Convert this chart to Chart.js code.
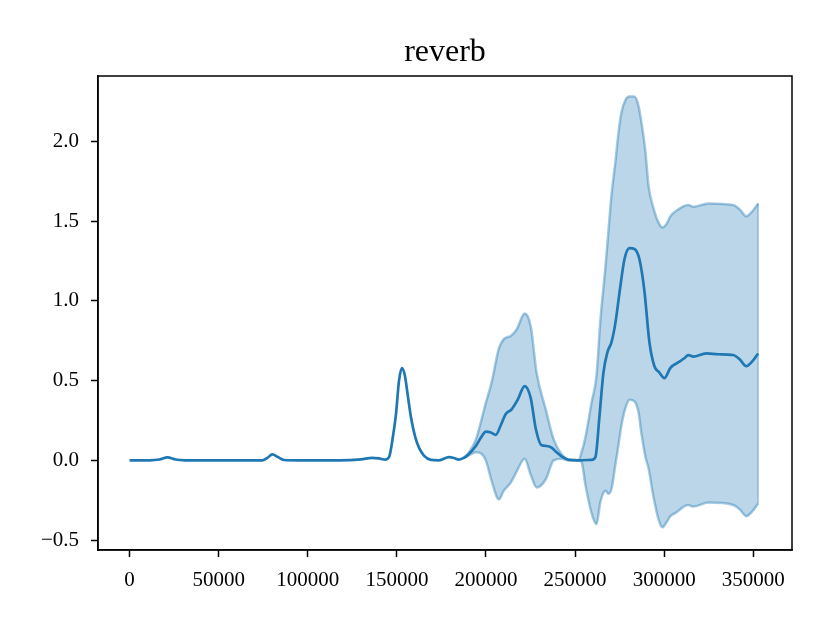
<!DOCTYPE html>
<html>
<head>
<meta charset="utf-8">
<script src="https://cdn.jsdelivr.net/npm/chart.js@4.4.0/dist/chart.umd.min.js"></script>
<style>
  body { margin: 0; background: #fff; }
</style>
</head>
<body>
<canvas id="reverbChart" width="830" height="623"></canvas>
<script>
// data
var title = 'reverb';
var xTicks = [0, 50000, 100000, 150000, 200000, 250000, 300000, 350000];
var yTicks = [-0.5, 0.0, 0.5, 1.0, 1.5, 2.0];

var meanX = [0, 11200, 16800, 21300, 25800, 30800, 56000, 74500, 77300, 80100, 83400, 86800, 95200,
    117600, 129900, 136100, 140000, 143400, 145600, 147800, 149500, 151200, 152900, 154500, 156200,
    157900, 160200, 162400, 165200, 169100, 173600, 179200, 182000, 184800, 187600, 190400, 194300,
    197600, 199900, 202700, 205500, 208300, 211100, 214400, 217800, 221700, 225100, 227900, 231200,
    234000, 236800, 239600, 242400, 246400, 252000, 259200, 261400, 263700, 265900, 268200, 270400,
    272600, 274900, 277700, 280500, 283300, 286100, 288900, 291700, 294500, 297300, 300100, 303500,
    308000, 311300, 313500, 316300, 323600, 330300, 338700, 342600, 346000, 349400, 352700];
var meanY = [0, 0, 0.005, 0.018, 0.005, 0, 0, 0, 0.015, 0.037, 0.02, 0.002, 0,
    0, 0.006, 0.016, 0.012, 0.005, 0.02, 0.15, 0.29, 0.50, 0.578, 0.53, 0.40,
    0.27, 0.15, 0.08, 0.03, 0.003, 0, 0.02, 0.015, 0.005, 0.015, 0.04, 0.09,
    0.15, 0.18, 0.175, 0.16, 0.22, 0.29, 0.32, 0.38, 0.465, 0.39, 0.2, 0.094,
    0.09, 0.08, 0.05, 0.025, 0.003, 0, 0.003, 0.02, 0.28, 0.55, 0.68, 0.74,
    0.86, 1.05, 1.26, 1.33, 1.325, 1.26, 1.06, 0.74, 0.59, 0.55, 0.515, 0.58,
    0.615, 0.64, 0.66, 0.65, 0.67, 0.665, 0.66, 0.63, 0.59, 0.62, 0.67];

var bandX = [187600, 190400, 194300, 197600, 199900, 203200, 207200, 210000, 213900, 217200, 221700,
    225100, 228400, 233500, 238000, 242400, 246400, 252000, 253600, 255900, 259200, 262000, 264200,
    267100, 268800, 270400, 272700, 274400, 276000, 278300, 280500, 283300, 285600, 287200, 289500,
    291200, 294000, 296800, 299000, 301200, 303500, 306300, 313500, 316300, 324700, 338700, 342600,
    346000, 349400, 352700];
var bandUpper = [0.015, 0.05, 0.13, 0.26, 0.36, 0.49, 0.70, 0.76, 0.78, 0.82, 0.92,
    0.84, 0.55, 0.32, 0.13, 0.04, 0.005, 0, 0.05, 0.15, 0.36, 0.53, 0.88,
    1.22, 1.45, 1.66, 1.88, 2.06, 2.18, 2.26, 2.28, 2.28, 2.22, 2.12, 1.93,
    1.72, 1.58, 1.49, 1.46, 1.48, 1.53, 1.56, 1.60, 1.59, 1.61, 1.60, 1.57,
    1.53, 1.56, 1.61];
var bandLower = [0.015, 0.03, 0.05, 0.04, 0.0, -0.13, -0.245, -0.19, -0.14, -0.07, 0.01,
    -0.09, -0.17, -0.12, 0.0, 0.01, 0.0, 0, -0.01, -0.16, -0.33, -0.40, -0.26,
    -0.19, -0.21, -0.18, -0.02, 0.10, 0.22, 0.33, 0.38, 0.37, 0.30, 0.17, 0.02,
    -0.05, -0.23, -0.37, -0.42, -0.39, -0.35, -0.33, -0.28, -0.29, -0.265, -0.28, -0.31,
    -0.35, -0.32, -0.27];

function pts(xs, ys) {
    return xs.map(function (x, i) { return { x: x, y: ys[i] }; });
}

var blue = '#1f77b4';
var last = bandX.length - 1;

// frame + title
var framePlugin = {
    id: 'frame',
    afterDraw: function (chart) {
        var a = chart.chartArea, c = chart.ctx;
        c.save();
        c.strokeStyle = '#000';
        c.lineWidth = 1.5;
        c.strokeRect(a.left, a.top, a.right - a.left, a.bottom - a.top);
        c.fillStyle = '#000';
        c.font = '32px "Liberation Serif"';
        c.textAlign = 'center';
        c.textBaseline = 'alphabetic';
        c.fillText(title, (a.left + a.right) / 2, 61);
        c.restore();
    }
};

var ctx = document.getElementById('reverbChart').getContext('2d');
var reverbChart = new Chart(ctx, {
    type: 'line',
    data: {
        datasets: [{
            label: 'upper',
            data: pts(bandX, bandUpper),
            borderColor: 'rgba(31, 119, 180, 0.4)',
            backgroundColor: 'rgba(31, 119, 180, 0.3)',
            borderWidth: 2.5,
            fill: '+1',
            cubicInterpolationMode: 'monotone',
            pointRadius: 0,
            order: 2
        }, {
            label: 'lower',
            data: pts(bandX, bandLower),
            borderColor: 'rgba(31, 119, 180, 0.4)',
            borderWidth: 2.5,
            fill: false,
            cubicInterpolationMode: 'monotone',
            pointRadius: 0,
            order: 2
        }, {
            label: 'edge',
            data: [{ x: bandX[last], y: bandUpper[last] }, { x: bandX[last], y: bandLower[last] }],
            borderColor: 'rgba(31, 119, 180, 0.4)',
            borderWidth: 1.5,
            fill: false,
            pointRadius: 0,
            order: 2
        }, {
            label: 'mean',
            data: pts(meanX, meanY),
            borderColor: blue,
            borderWidth: 2.7,
            fill: false,
            cubicInterpolationMode: 'monotone',
            pointRadius: 0,
            order: 1
        }]
    },
    options: {
        responsive: false,
        animation: false,
        devicePixelRatio: 1,
        layout: { padding: { top: 76, right: 38, left: 0, bottom: 0 } },
        plugins: {
            legend: { display: false },
            tooltip: { enabled: false }
        },
        scales: {
            x: {
                type: 'linear',
                min: -17700,
                max: 371700,
                afterBuildTicks: function (s) { s.ticks = xTicks.map(function (v) { return { value: v }; }); },
                afterFit: function (s) { s.height = 73; },
                grid: { drawOnChartArea: false, drawTicks: true, tickLength: 7, tickColor: '#000', tickWidth: 1.5 },
                border: { display: true, color: '#000', width: 1.5 },
                ticks: {
                    color: '#000',
                    padding: 11,
                    maxRotation: 0,
                    autoSkip: false,
                    font: { family: '"Liberation Serif"', size: 21 },
                    callback: function (v) { return String(v); }
                }
            },
            y: {
                type: 'linear',
                min: -0.562,
                max: 2.409,
                afterBuildTicks: function (s) { s.ticks = yTicks.map(function (v) { return { value: v }; }); },
                afterFit: function (s) { s.width = 98; },
                grid: { drawOnChartArea: false, drawTicks: true, tickLength: 7, tickColor: '#000', tickWidth: 1.5 },
                border: { display: true, color: '#000', width: 1.5 },
                ticks: {
                    color: '#000',
                    padding: 12,
                    autoSkip: false,
                    font: { family: '"Liberation Serif"', size: 21 },
                    callback: function (v) { return v.toFixed(1).replace('-', '\u2212'); }
                }
            }
        }
    },
    plugins: [framePlugin]
});
</script>
</body>
</html>
